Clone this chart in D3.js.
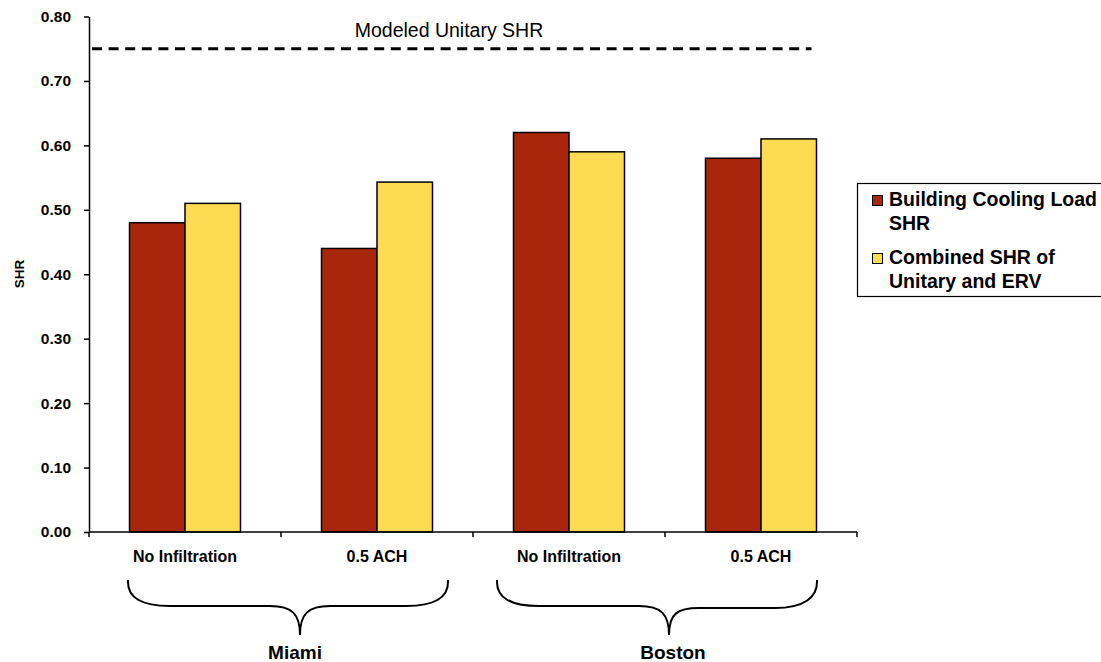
<!DOCTYPE html>
<html>
<head>
<meta charset="utf-8">
<script src="https://cdn.jsdelivr.net/npm/d3@7"></script>
<style>
  html, body { margin: 0; padding: 0; background: #fff; }
  svg { display: block; font-family: "Liberation Sans", Arial, sans-serif; }
</style>
</head>
<body>
<svg id="chart" width="1101" height="662"></svg>
<script>
// Cases along the x axis (two per city)
const caseLabels = ["No Infiltration", "0.5 ACH", "No Infiltration", "0.5 ACH"];
const cities = ["Miami", "Boston"];
const cityOfCase = [0, 0, 1, 1];

// Series
const seriesNames = ["Building Cooling Load SHR", "Combined SHR of Unitary and ERV"];
const legendLines = [["Building Cooling Load", "SHR"], ["Combined SHR of", "Unitary and ERV"]];
const coolingLoadSHR = [0.48, 0.44, 0.62, 0.58];
const combinedSHR = [0.51, 0.543, 0.59, 0.61];
const modeledUnitarySHR = 0.75;

const yTicks = [0, 0.1, 0.2, 0.3, 0.4, 0.5, 0.6, 0.7, 0.8];

const colors = ["#A8260B", "#FDDC53"];

const svg = d3.select("#chart");
const plot = { left: 89, right: 857, top: 16.5, bottom: 532 };

const x = d3.scaleBand()
  .domain(d3.range(caseLabels.length))
  .range([plot.left, plot.right])
  .paddingInner(0).paddingOuter(0);

const xs = d3.scaleBand()
  .domain(d3.range(seriesNames.length))
  .range([0, x.bandwidth()])
  .paddingInner(0).paddingOuter(0.73);

const y = d3.scaleLinear().domain([0, 0.8]).range([plot.bottom, plot.top]);

const seriesValues = [coolingLoadSHR, combinedSHR];

// Bars
const groups = svg.append("g").selectAll("g")
  .data(caseLabels.map((c, i) => i))
  .join("g")
  .attr("transform", i => `translate(${x(i)},0)`);

groups.selectAll("rect")
  .data(i => seriesValues.map((vals, s) => ({ s, v: vals[i] })))
  .join("rect")
  .attr("x", d => xs(d.s))
  .attr("width", xs.bandwidth())
  .attr("y", d => y(d.v))
  .attr("height", d => y(0) - y(d.v))
  .attr("fill", d => colors[d.s])
  .attr("stroke", "#000")
  .attr("stroke-width", 1.5);

// Y axis
const yAxis = d3.axisLeft(y)
  .tickValues(yTicks)
  .tickFormat(d3.format(".2f"))
  .tickSizeInner(5).tickSizeOuter(0).tickPadding(13);

const yg = svg.append("g").attr("transform", `translate(${plot.left},0)`).call(yAxis);
yg.select(".domain").attr("stroke", "#000").attr("stroke-width", 1.5);
yg.selectAll(".tick line").attr("stroke", "#000").attr("stroke-width", 1.5);
yg.selectAll(".tick text")
  .attr("fill", "#000")
  .style("font-size", "15.5px")
  .style("font-weight", "bold")
  .style("font-family", "'Liberation Sans', Arial, sans-serif");

// X axis line with ticks on band boundaries
const xAxisG = svg.append("g");
xAxisG.append("line")
  .attr("x1", plot.left).attr("x2", plot.right)
  .attr("y1", y(0)).attr("y2", y(0))
  .attr("stroke", "#000").attr("stroke-width", 1.5);
const boundaries = d3.range(caseLabels.length + 1).map(i => i < caseLabels.length ? x(i) : plot.right);
xAxisG.selectAll("line.tk")
  .data(boundaries)
  .join("line")
  .attr("class", "tk")
  .attr("x1", d => d).attr("x2", d => d)
  .attr("y1", y(0)).attr("y2", y(0) + 5)
  .attr("stroke", "#000").attr("stroke-width", 1.5);

xAxisG.selectAll("text")
  .data(caseLabels)
  .join("text")
  .attr("x", (d, i) => x(i) + x.bandwidth() / 2)
  .attr("y", 561.5)
  .attr("text-anchor", "middle")
  .style("font-size", "16px")
  .style("font-weight", "bold")
  .text(d => d);

// Y axis title
svg.append("text")
  .attr("transform", `translate(23.5,274) rotate(-90)`)
  .attr("text-anchor", "middle")
  .style("font-size", "13.5px")
  .style("font-weight", "bold")
  .text("SHR");

// Modeled unitary SHR reference line
const lastCase = caseLabels.length - 1;
const refRight = x(lastCase) + xs(seriesNames.length - 1) + xs.bandwidth() - 5;
svg.append("line")
  .attr("x1", plot.left + 3).attr("x2", refRight)
  .attr("y1", y(modeledUnitarySHR)).attr("y2", y(modeledUnitarySHR))
  .attr("stroke", "#000")
  .attr("stroke-width", 3)
  .attr("stroke-dasharray", "10,6.6");

svg.append("text")
  .attr("x", 449)
  .attr("y", 37)
  .attr("text-anchor", "middle")
  .style("font-size", "19.5px")
  .text("Modeled Unitary SHR");

// City braces under the case labels
const braceTop = 580, braceMid = 606, braceTip = 635;
const braceInsets = [[39, 25], [24, 40]];
const cityLabelShift = [-5, 4];
cities.forEach((city, ci) => {
  const idx = cityOfCase.map((c, i) => c === ci ? i : -1).filter(i => i >= 0);
  const x0 = x(idx[0]) + braceInsets[ci][0];
  const x1 = x(idx[idx.length - 1]) + x.bandwidth() - braceInsets[ci][1];
  const tip = (x0 + x1) / 2 + 12;
  const rightMid = braceMid + (ci === 1 ? 2 : 0);
  const p = d3.path();
  p.moveTo(x0, braceTop);
  p.bezierCurveTo(x0 - 1, braceTop + 18, x0 + 14, braceMid, x0 + 42, braceMid);
  p.lineTo(tip - 30, braceMid);
  p.bezierCurveTo(tip - 8, braceMid, tip, braceMid + 8, tip, braceTip);
  p.bezierCurveTo(tip, braceMid + 8, tip + 8, rightMid, tip + 30, rightMid);
  p.lineTo(x1 - 42, rightMid);
  p.bezierCurveTo(x1 - 14, rightMid, x1 + 1, braceTop + 18, x1, braceTop);
  svg.append("path")
    .attr("d", p.toString())
    .attr("fill", "none")
    .attr("stroke", "#000")
    .attr("stroke-width", 2);
  svg.append("text")
    .attr("x", tip + cityLabelShift[ci])
    .attr("y", 659)
    .attr("text-anchor", "middle")
    .style("font-size", "19px")
    .style("font-weight", "bold")
    .text(city);
});

// Legend
const legend = svg.append("g");
legend.append("rect")
  .attr("x", 857.5).attr("y", 183.5)
  .attr("width", 260).attr("height", 113)
  .attr("fill", "#fff")
  .attr("stroke", "#000")
  .attr("stroke-width", 1.2);

const legendRowY = [206, 264];
seriesNames.forEach((name, s) => {
  legend.append("rect")
    .attr("x", 872.5).attr("y", legendRowY[s] - 10.5)
    .attr("width", 10).attr("height", 10)
    .attr("fill", colors[s])
    .attr("stroke", "#000")
    .attr("stroke-width", 1);
  const t = legend.append("text")
    .attr("x", 889)
    .attr("y", legendRowY[s])
    .style("font-size", "19.5px")
    .style("font-weight", "bold");
  legendLines[s].forEach((line, li) => {
    t.append("tspan")
      .attr("x", 889)
      .attr("dy", li === 0 ? 0 : 23.5)
      .text(line);
  });
});
</script>
</body>
</html>
